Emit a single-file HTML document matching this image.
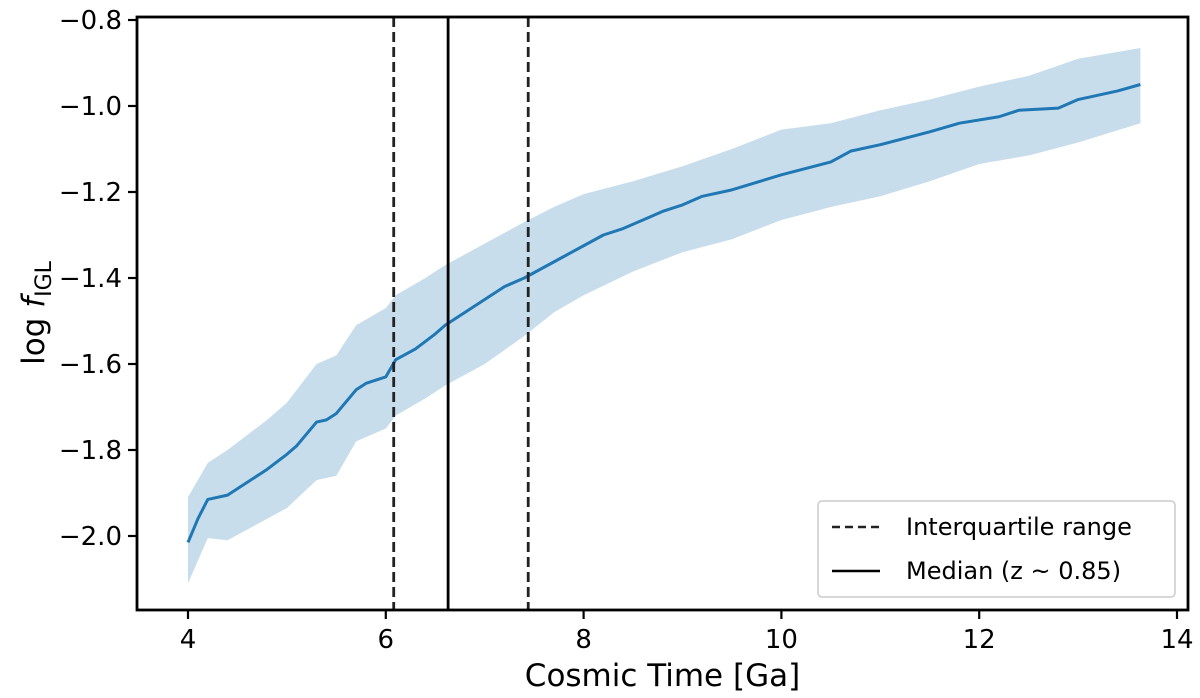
<!DOCTYPE html>
<html><head><meta charset="utf-8"><style>
body{margin:0;background:#fff;}
svg{display:block;font-family:"DejaVu Sans","Liberation Sans",sans-serif;}
</style></head><body>
<svg id="chart" width="1200" height="698"></svg>
<script>
const medT=[4.0,4.1,4.2,4.4,4.6,4.8,5.0,5.1,5.3,5.4,5.5,5.7,5.8,6.0,6.1,6.3,6.5,6.6,6.8,7.0,7.2,7.4,7.6,7.8,8.0,8.2,8.4,8.6,8.8,9.0,9.2,9.5,10.0,10.5,10.7,11.0,11.5,11.8,12.2,12.4,12.8,13.0,13.4,13.63];
const medV=[-2.015,-1.96,-1.915,-1.905,-1.875,-1.845,-1.81,-1.79,-1.735,-1.73,-1.715,-1.66,-1.645,-1.63,-1.59,-1.565,-1.53,-1.51,-1.48,-1.45,-1.42,-1.40,-1.375,-1.35,-1.325,-1.30,-1.285,-1.265,-1.245,-1.23,-1.21,-1.195,-1.16,-1.13,-1.105,-1.09,-1.06,-1.04,-1.025,-1.01,-1.005,-0.985,-0.965,-0.95];
const bandT=[4.0,4.2,4.4,4.8,5.0,5.3,5.5,5.7,6.0,6.1,6.4,6.6,7.0,7.4,7.7,8.0,8.5,9.0,9.5,10.0,10.5,11.0,11.5,12.0,12.5,13.0,13.63];
const upperV=[-1.91,-1.83,-1.80,-1.73,-1.69,-1.60,-1.58,-1.51,-1.47,-1.44,-1.40,-1.37,-1.32,-1.27,-1.235,-1.205,-1.175,-1.14,-1.10,-1.055,-1.04,-1.01,-0.985,-0.955,-0.93,-0.89,-0.865];
const lowerV=[-2.11,-2.005,-2.01,-1.96,-1.935,-1.87,-1.86,-1.78,-1.75,-1.72,-1.68,-1.65,-1.60,-1.535,-1.48,-1.44,-1.385,-1.34,-1.31,-1.265,-1.235,-1.21,-1.175,-1.135,-1.115,-1.085,-1.04];
const xTicks=[4,6,8,10,12,14];
const yTicks=[-0.8,-1.0,-1.2,-1.4,-1.6,-1.8,-2.0];
const iqr=[6.08,7.44];
const median=6.63;

const L=137,R=1188,T=17,B=610;
const X=t=>188+(t-4)*98.9;
const Y=v=>106+(-1.0-v)*430;
const svg=document.getElementById('chart');
const NS='http://www.w3.org/2000/svg';
function mk(tag,attrs,parent){const e=document.createElementNS(NS,tag);for(const k in attrs)e.setAttribute(k,attrs[k]);(parent||svg).appendChild(e);return e;}

let d='M'+bandT.map((t,i)=>X(t)+','+Y(upperV[i])).join('L');
for(let i=bandT.length-1;i>=0;i--)d+='L'+X(bandT[i])+','+Y(lowerV[i]);
const band=mk('path',{d:d+'Z',fill:'#1f77b4','fill-opacity':0.25});



const line=mk('path',{d:'M'+medT.map((t,i)=>X(t)+','+Y(medV[i])).join('L'),fill:'none',stroke:'#1f77b4','stroke-width':3,'stroke-linejoin':'round'});



iqr.forEach((t,i)=>{const l=mk('line',{x1:X(t),x2:X(t),y1:T,y2:B,stroke:'#222','stroke-width':2.8,'stroke-dasharray':'10,5'});

});
const ml=mk('line',{x1:X(median),x2:X(median),y1:T,y2:B,stroke:'#000','stroke-width':2.8});



const frame=mk('rect',{x:L,y:T,width:R-L,height:B-T,fill:'none',stroke:'#000','stroke-width':2.8});



xTicks.forEach(t=>{mk('line',{x1:X(t),x2:X(t),y1:B,y2:B+9,stroke:'#000','stroke-width':2.2});
const tx=mk('text',{x:X(t),y:B+38,'text-anchor':'middle','font-size':26});tx.textContent=t;

});
yTicks.forEach(v=>{mk('line',{x1:L-9,x2:L,y1:Y(v),y2:Y(v),stroke:'#000','stroke-width':2.2});
const tx=mk('text',{x:L-15,y:Y(v)+9,'text-anchor':'end','font-size':26});tx.textContent='\u2212'+Math.abs(v).toFixed(1);

});

const xt=mk('text',{x:(L+R)/2,y:686,'text-anchor':'middle','font-size':31});xt.textContent='Cosmic Time [Ga]';


const yt=mk('text',{transform:'translate(44,313) rotate(-90)','text-anchor':'middle','font-size':31});
yt.innerHTML='log <tspan font-style="italic">f</tspan><tspan font-size="22" dy="7">IGL</tspan>';



const lg=mk('g',{});


mk('rect',{x:818,y:501,width:357,height:96,rx:4,fill:'#fff',stroke:'#ccc','stroke-width':1.5},lg);
mk('line',{x1:832,x2:880,y1:527,y2:527,stroke:'#222','stroke-width':2.6,'stroke-dasharray':'8,5'},lg);
mk('line',{x1:832,x2:880,y1:571,y2:571,stroke:'#000','stroke-width':2.6},lg);
const e1=mk('text',{x:906,y:535,'font-size':24},lg);e1.textContent='Interquartile range';


const e2=mk('text',{x:906,y:579,'font-size':24},lg);e2.textContent='Median (z ~ 0.85)';


</script>
</body></html>
